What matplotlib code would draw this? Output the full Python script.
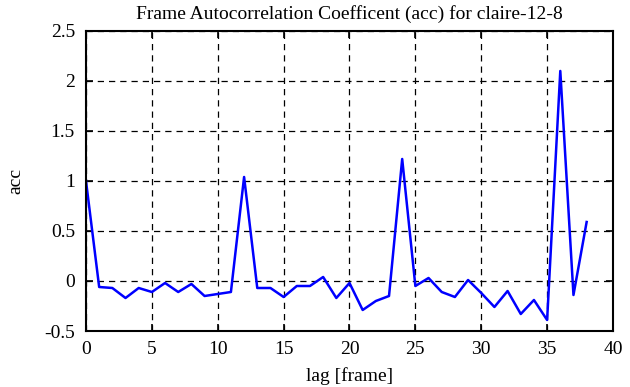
import matplotlib
matplotlib.use("Agg")
import matplotlib.pyplot as plt

lags = list(range(0, 39))
acc = [1.0, -0.06, -0.07, -0.17, -0.07, -0.11, -0.02, -0.11, -0.03, -0.15,
       -0.13, -0.11, 1.04, -0.07, -0.07, -0.16, -0.05, -0.05, 0.04, -0.17,
       -0.02, -0.29, -0.20, -0.15, 1.22, -0.05, 0.03, -0.11, -0.16, 0.01,
       -0.12, -0.26, -0.10, -0.33, -0.19, -0.39, 2.10, -0.14, 0.59]
xticks = [0, 5, 10, 15, 20, 25, 30, 35, 40]
yticks = [-0.5, 0, 0.5, 1, 1.5, 2, 2.5]
ytick_labels = ["-0.5", "0", "0.5", "1", "1.5", "2", "2.5"]

plt.rcParams['font.family'] = ['Liberation Serif', 'DejaVu Serif']
fig = plt.figure(figsize=(6.3, 3.87), dpi=100)
ax = fig.add_axes([0.1365, 0.1447, 0.8365, 0.7753])
ax.plot(lags, acc, color=(0, 0, 1), linewidth=1.8)
ax.set_xlim(0, 40)
ax.set_ylim(-0.5, 2.5)
ax.set_xticks(xticks)
ax.set_xticklabels([str(t) for t in xticks])
ax.set_yticks(yticks)
ax.set_yticklabels(ytick_labels)
ax.grid(True, color='black', linestyle=(0, (5, 4)), linewidth=0.9)
ax.tick_params(direction='in', top=True, right=True, length=5, width=1.2, labelsize=14)
ax.tick_params(axis='x', pad=7)
ax.tick_params(axis='y', pad=8)
for s in ax.spines.values():
    s.set_linewidth(1.5)
ax.set_xlabel('lag [frame]', fontsize=14, labelpad=7)
ax.set_ylabel('acc', fontsize=14, labelpad=14)
ax.set_title('Frame Autocorrelation Coefficent (acc) for claire-12-8', fontsize=14, pad=9)
fig.savefig('out.png', dpi=100)
